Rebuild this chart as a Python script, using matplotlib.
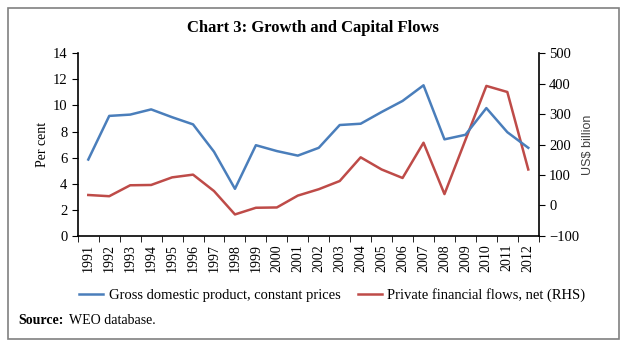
import matplotlib
matplotlib.use("Agg")
import matplotlib.pyplot as plt
from matplotlib.lines import Line2D
from matplotlib.patches import Rectangle

years = [str(y) for y in range(1991, 2013)]
gdp = [5.85, 9.2, 9.3, 9.7, 9.1, 8.55, 6.45, 3.6, 6.95, 6.5, 6.15, 6.75,
       8.5, 8.6, 9.5, 10.35, 11.55, 7.4, 7.75, 9.8, 7.95, 6.75]
flows = [34, 30, 66, 67, 92, 101, 47, -30, -8, -7, 32, 53,
         80, 158, 118, 90, 206, 37, 215, 393, 373, 118]

blue = "#4A7EBB"
red = "#BE4B48"
serif = ["Liberation Serif", "DejaVu Serif"]

fig = plt.figure(figsize=(6.25, 3.49), dpi=100)
fig.patches.append(Rectangle((8/625, 1-339/349), 611/625, 331/349, transform=fig.transFigure,
                             fill=False, edgecolor="#808080", linewidth=1.2))

ax = fig.add_axes([0.1245, 0.3246, 0.862-0.1245, 0.847-0.3246])
ax2 = ax.twinx()

x = list(range(len(years)))
ax.plot(x, gdp, color=blue, linewidth=1.8)
ax2.plot(x, flows, color=red, linewidth=1.8)
ax.set_zorder(ax2.get_zorder() + 1)
ax.patch.set_visible(False)

ax.set_xlim(-0.5, len(years) - 0.5)
ax.set_ylim(0, 14)
ax.set_yticks(range(0, 15, 2))
ax2.set_ylim(-100, 500)
ax2.set_yticks(range(-100, 501, 100))

ax.set_xticks(x)
ax.set_xticklabels(years, rotation=90, fontfamily=serif, fontsize=10)
ax.tick_params(axis="x", which="major", length=0, pad=6)
ax.set_xticks([i - 0.5 for i in range(len(years) + 1)], minor=True)
ax.tick_params(axis="x", which="minor", length=4, direction="out")

for a in (ax, ax2):
    a.spines["top"].set_visible(False)
    for s in a.spines.values():
        s.set_linewidth(1.2)
ax2.spines["left"].set_visible(False)
ax2.spines["bottom"].set_visible(False)
ax.spines["right"].set_visible(False)

ax.tick_params(axis="y", length=4, direction="out", labelsize=10.5)
ax2.tick_params(axis="y", length=4, direction="out", labelsize=10.5)
for lbl in ax.get_yticklabels() + ax2.get_yticklabels():
    lbl.set_fontfamily(serif)

ax.set_ylabel("Per cent", fontfamily=serif, fontsize=10, labelpad=3)
ax2.set_ylabel("US$ billion", fontfamily=["Liberation Sans", "DejaVu Sans"], fontsize=9,
               color="#404040", labelpad=2)

fig.text(313/625, 1-28/349, "Chart 3: Growth and Capital Flows", ha="center", va="center",
         fontfamily=serif, fontweight="bold", fontsize=12)

handles = [Line2D([], [], color=blue, linewidth=1.8), Line2D([], [], color=red, linewidth=1.8)]
fig.legend(handles, ["Gross domestic product, constant prices", "Private financial flows, net (RHS)"],
           loc="center left", bbox_to_anchor=(66/625, 1-295/349), ncol=2, frameon=False,
           prop={"family": serif, "size": 10.5}, handlelength=1.65, columnspacing=1.15,
           handletextpad=0.4)

fig.text(18/625, 1-320/349, "Source:", fontfamily=serif, fontweight="bold", fontsize=10,
         ha="left", va="center")
fig.text(69/625, 1-320/349, "WEO database.", fontfamily=serif, fontsize=10,
         ha="left", va="center")

fig.savefig("out.png", dpi=100)
